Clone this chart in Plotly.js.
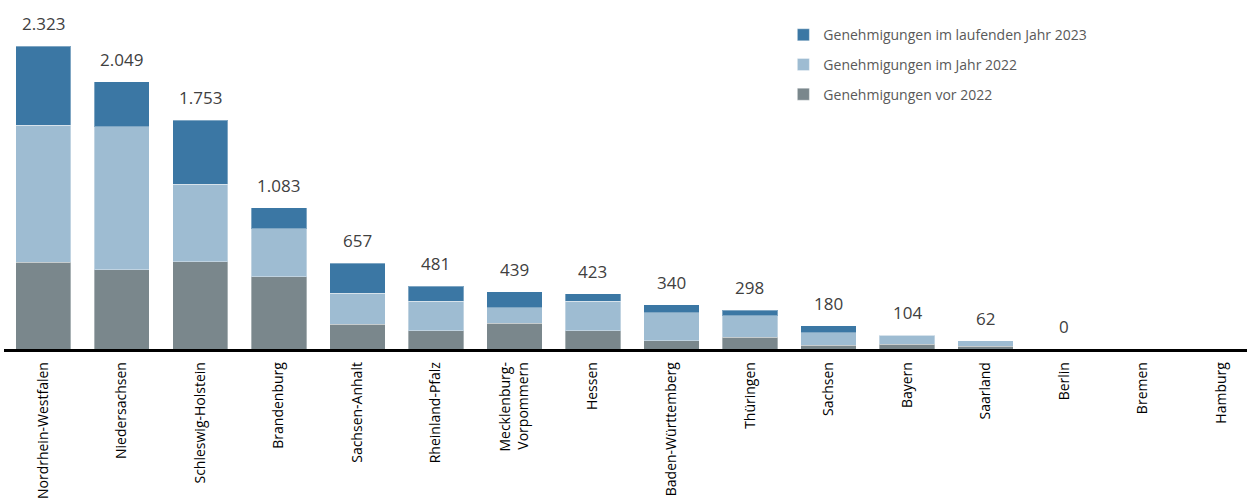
<!DOCTYPE html>
<html>
<head>
<meta charset="utf-8">
<script src="https://cdn.plot.ly/plotly-3.0.1.min.js"></script>
<style>html,body{margin:0;padding:0;background:#fff;}#chart{width:1247px;height:504px;}</style>
</head>
<body>
<div id="chart"></div>
<script>
const categories = ["Nordrhein-Westfalen","Niedersachsen","Schleswig-Holstein","Brandenburg","Sachsen-Anhalt","Rheinland-Pfalz","Mecklenburg-<br>Vorpommern","Hessen","Baden-Württemberg","Thüringen","Sachsen","Bayern","Saarland","Berlin","Bremen","Hamburg"];
const vor2022   = [666, 608, 671, 556, 188, 140, 198, 140, 65, 91, 27, 37, 22, 0, 0, 0];
const jahr2022  = [1051, 1097, 591, 368, 240, 225, 118, 225, 215, 164, 97, 67, 40, 0, 0, 0];
const lauf2023  = [606, 344, 491, 159, 229, 116, 123, 58, 60, 43, 56, 0, 0, 0, 0, 0];
const totals    = [2323, 2049, 1753, 1083, 657, 481, 439, 423, 340, 298, 180, 104, 62, 0, null, null];
const seriesNames = ["Genehmigungen vor 2022", "Genehmigungen im Jahr 2022", "Genehmigungen im laufenden Jahr 2023"];
const seriesColors = ["#7a878c", "#9ebcd2", "#3b77a4"];

function fmt(v){ return String(v).replace(/\B(?=(\d{3})+(?!\d))/g, "."); }

const seriesData = [vor2022, jahr2022, lauf2023];
const traces = seriesData.map((vals, i) => ({
  type: "bar",
  x: categories,
  y: vals,
  name: seriesNames[i],
  legendgroup: "g" + i,
  legendrank: 3 - i,
  marker: {color: seriesColors[i], line: {color: "rgba(255,255,255,0.35)", width: 1}},
  hoverinfo: "none"
}));

const annotations = [];
categories.forEach((c, i) => {
  if (totals[i] === null) return;
  annotations.push({
    x: c, y: totals[i], xref: "x", yref: "y",
    text: fmt(totals[i]), showarrow: false,
    yanchor: "bottom", yshift: 9,
    font: {family: "Open Sans", size: 17, color: "#404040"}
  });
});

const layout = {
  width: 1247, height: 504,
  margin: {l: 4, r: 0, t: 0, b: 155},
  barmode: "stack",
  bargap: 0.295,
  paper_bgcolor: "#fff", plot_bgcolor: "#fff",
  font: {family: "Open Sans", color: "#000"},
  xaxis: {
    type: "category",
    range: [-0.5, 15.33],
    showline: true, linecolor: "#000", linewidth: 2.5,
    ticks: "", tickangle: -90, ticklabelstandoff: 5,
    tickfont: {family: "Open Sans", size: 14, color: "#000"},
    showgrid: false, zeroline: false, fixedrange: true
  },
  yaxis: {visible: false, range: [0, 2677], showgrid: false, zeroline: false},
  showlegend: true,
  legend: {
    x: 0.627, xanchor: "left", y: 0.945, yanchor: "top",
    traceorder: "grouped", tracegroupgap: 8.5,
    font: {family: "Open Sans", size: 14, color: "#595959"},
    bgcolor: "rgba(0,0,0,0)"
  },
  annotations: annotations
};

Plotly.newPlot("chart", traces, layout, {displayModeBar: false, staticPlot: true});
</script>
</body>
</html>
